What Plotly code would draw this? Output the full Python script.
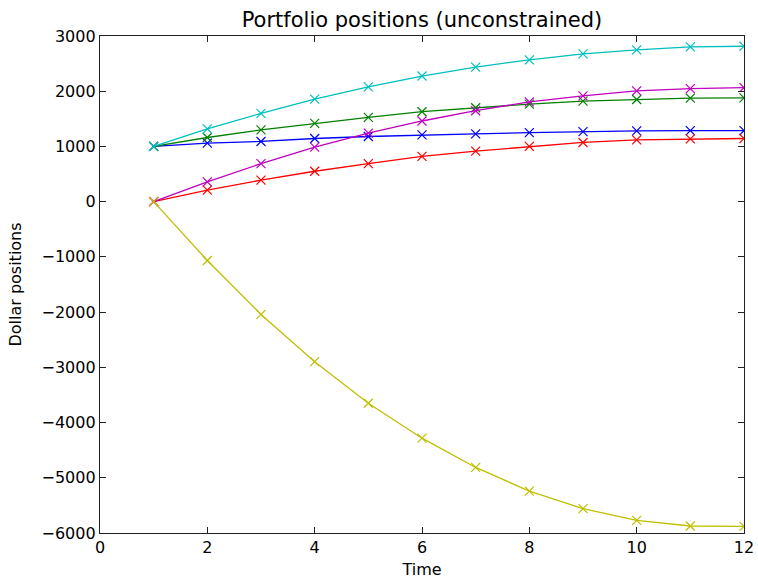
import plotly.graph_objects as go

# Time steps
time = [1, 2, 3, 4, 5, 6, 7, 8, 9, 10, 11, 12]

# Dollar position per asset over time
pos_blue = [1000, 1060, 1090, 1144, 1180, 1210, 1228, 1251, 1269, 1281, 1287, 1287]
pos_green = [1000, 1162, 1299, 1419, 1527, 1629, 1701, 1766, 1820, 1850, 1874, 1880]
pos_red = [0, 210, 389, 551, 689, 820, 916, 1000, 1072, 1120, 1138, 1144]
pos_cyan = [1000, 1317, 1599, 1856, 2078, 2275, 2437, 2569, 2677, 2749, 2802, 2814]
pos_magenta = [0, 359, 689, 988, 1240, 1461, 1647, 1808, 1916, 2006, 2048, 2066]
pos_yellow = [0, -1066, -2042, -2898, -3651, -4283, -4813, -5241, -5560, -5771, -5873, -5880]

series = [
    (pos_blue, "#0000ff"),
    (pos_green, "#008000"),
    (pos_red, "#ff0000"),
    (pos_cyan, "#00bfbf"),
    (pos_magenta, "#bf00bf"),
    (pos_yellow, "#bfbf00"),
]

fig = go.Figure()
for values, color in series:
    fig.add_trace(go.Scatter(
        x=time, y=values, mode="lines+markers",
        line=dict(color=color, width=1.3),
        marker=dict(symbol="x-thin", size=9, line=dict(color=color, width=1.2)),
        showlegend=False,
    ))

font_family = "DejaVu Sans"
axis_common = dict(
    showgrid=False, zeroline=False, showline=True, linecolor="#222222", linewidth=1.4,
    mirror="ticks", ticks="inside", ticklen=6, tickwidth=1, tickcolor="#222222",
    tickfont=dict(family=font_family, size=16, color="black"),
    automargin=False,
)

fig.update_layout(
    width=758, height=579,
    margin=dict(l=100, r=14, t=36, b=46),
    paper_bgcolor="white", plot_bgcolor="white",
    title=dict(text="Portfolio positions (unconstrained)", xref="paper", x=0.5,
               xanchor="center", y=1 - 20 / 579, yanchor="middle",
               font=dict(family=font_family, size=21, color="black")),
    xaxis=dict(range=[0, 12], tickvals=[0, 2, 4, 6, 8, 10, 12],
               title=dict(text="Time",
                          font=dict(family=font_family, size=16, color="black")),
               **axis_common),
    yaxis=dict(range=[-6000, 3000], tickvals=list(range(-6000, 3001, 1000)),
               title=dict(text="Dollar positions",
                          font=dict(family=font_family, size=16, color="black")),
               **axis_common),
)

fig.write_html("out.html")
